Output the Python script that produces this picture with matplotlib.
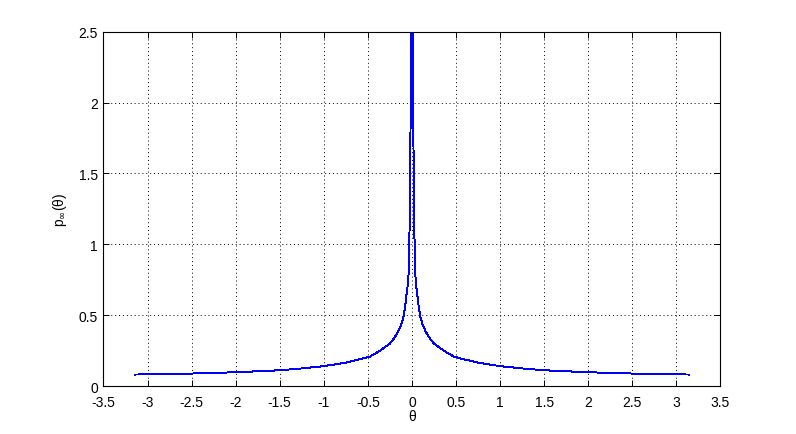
import matplotlib
matplotlib.use('Agg')
import matplotlib.pyplot as plt

# values
theta = [-3.14, -3.0, -2.5, -2.0, -1.5, -1.25, -1.0, -0.76, -0.6, -0.48,
         -0.37, -0.25, -0.20, -0.16, -0.12, -0.095, -0.076, -0.061, -0.046,
         -0.036, -0.024, -0.012, 0.0,
         0.012, 0.024, 0.036, 0.046, 0.061, 0.076, 0.095, 0.12, 0.16, 0.20,
         0.25, 0.37, 0.48, 0.6, 0.76, 1.0, 1.25, 1.5, 2.0, 2.5, 3.0, 3.14]
p_inf = [0.082, 0.083, 0.089, 0.098, 0.112, 0.125, 0.141, 0.165, 0.188, 0.207,
         0.247, 0.30, 0.34, 0.38, 0.435, 0.49, 0.565, 0.647, 0.72,
         0.81, 1.21, 2.12, 3.0,
         2.12, 1.21, 0.81, 0.72, 0.647, 0.565, 0.49, 0.435, 0.38, 0.34,
         0.30, 0.247, 0.207, 0.188, 0.165, 0.141, 0.125, 0.112, 0.098, 0.089, 0.083, 0.082]

xticks = [-3.5, -3, -2.5, -2, -1.5, -1, -0.5, 0, 0.5, 1, 1.5, 2, 2.5, 3, 3.5]
yticks = [0, 0.5, 1, 1.5, 2, 2.5]

plt.rcParams['font.family'] = ['Liberation Sans', 'DejaVu Sans']
plt.rcParams['font.size'] = 10
plt.rcParams['axes.unicode_minus'] = False

fig = plt.figure(figsize=(7.96, 4.35), dpi=100)
ax = fig.add_axes([0.13, 0.11, 0.775, 0.815])

ax.plot(theta, p_inf, color=(0, 0, 1), lw=0.7, antialiased=False)

ax.set_xlim(-3.5, 3.5)
ax.set_ylim(0, 2.5)
ax.set_xticks(xticks)
ax.set_xticklabels([('%g' % t) for t in xticks])
ax.set_yticks(yticks)
ax.set_yticklabels([('%g' % t) for t in yticks])

# matlab style grid and ticks
ax.grid(True, color='k', linestyle=(0, (1, 3)), linewidth=0.7)
ax.tick_params(direction='in', length=4, width=0.7, top=True, right=True, pad=4)
ax.tick_params(axis='x', pad=6.5)
for s in ax.spines.values():
    s.set_linewidth(0.8)

ax.set_xlabel('θ', labelpad=0)
ax.set_ylabel('p$_\\infty$(θ)', labelpad=7)

fig.savefig('out.png', dpi=100)
